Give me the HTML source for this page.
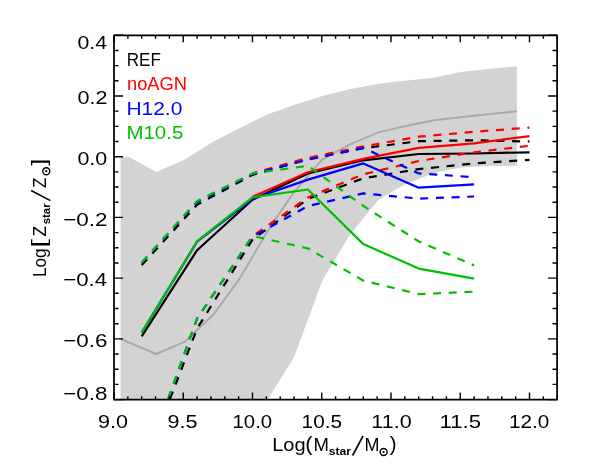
<!DOCTYPE html>
<html><head><meta charset="utf-8"><title>plot</title>
<style>html,body{margin:0;padding:0;background:#fff;}svg{display:block;will-change:transform;}text{font-family:"Liberation Sans",sans-serif;}</style>
</head><body>
<svg width="591" height="472" viewBox="0 0 591 472">
<rect x="0" y="0" width="591" height="472" fill="#ffffff"/>
<defs><clipPath id="cp"><rect x="114.0" y="35.3" width="443.1" height="364.3"/></clipPath></defs>
<g clip-path="url(#cp)">
<polygon points="120.6,156.7 129.0,157.0 156.4,172.0 184.4,159.7 213.7,141.5 240.0,127.9 267.7,114.2 294.1,105.1 322.4,96.0 349.4,89.3 378.5,83.8 404.8,80.8 433.9,77.8 460.2,72.0 487.9,69.0 516.9,66.2 516.9,165.8 487.9,166.1 460.2,167.6 433.9,173.1 404.8,184.6 378.5,199.8 349.4,235.6 322.4,280.6 294.1,357.1 267.7,399.6 240.0,460.3 213.7,521.0 184.4,551.4 156.4,581.7 129.0,612.1 120.6,612.1" fill="#d3d3d3"/>
<path d="M129.0 157.5V399.6M184.4 160.2V399.6M213.7 142.0V399.6M267.7 114.7V399.6M349.4 89.8V235.6M404.8 81.3V184.6M433.9 78.3V173.1" stroke="#dadada" stroke-width="0.5" fill="none"/>
<polyline points="120.6,338.9 129.0,342.5 156.4,354.0 184.4,341.9 213.7,314.3 240.0,278.1 267.7,230.8 294.1,191.9 322.4,159.3 349.4,144.6 378.5,132.4 404.8,126.3 433.9,120.3 460.2,117.2 487.9,114.2 516.9,111.2" fill="none" stroke="#a9a9a9" stroke-width="2" stroke-linejoin="round"/>
<polyline points="141.7,336.4 197.1,250.2 252.5,199.8 307.9,173.4 363.3,160.3 418.7,154.0 474.1,153.5 529.5,152.3" fill="none" stroke="#000000" stroke-width="2.2" stroke-linejoin="round"/>
<polyline points="141.7,265.1 197.1,204.7 252.5,174.9 307.9,159.1 363.3,148.2 418.7,141.2 474.1,140.3 529.5,141.5" fill="none" stroke="#000000" stroke-width="2.2" stroke-dasharray="8 7.7" stroke-linejoin="round"/>
<polyline points="141.7,472.4 197.1,328.5 252.5,239.6 307.9,198.9 363.3,178.3 418.7,169.1 474.1,163.4 529.5,159.9" fill="none" stroke="#000000" stroke-width="2.2" stroke-dasharray="8 7.7" stroke-linejoin="round"/>
<polyline points="252.5,196.8 307.9,172.2 363.3,158.9 418.7,147.9 474.1,143.3 529.5,136.1" fill="none" stroke="#ff0000" stroke-width="2.2" stroke-linejoin="round"/>
<polyline points="252.5,173.4 307.9,157.9 363.3,146.4 418.7,136.7 474.1,131.8 529.5,127.6" fill="none" stroke="#ff0000" stroke-width="2.2" stroke-dasharray="8 7.7" stroke-dashoffset="3.25" stroke-linejoin="round"/>
<polyline points="252.5,236.2 307.9,197.4 363.3,174.3 418.7,161.0 474.1,152.3 529.5,145.8" fill="none" stroke="#ff0000" stroke-width="2.2" stroke-dasharray="8 7.7" stroke-dashoffset="11.58" stroke-linejoin="round"/>
<polyline points="141.7,332.5 197.1,241.7 252.5,198.9 307.9,179.6 363.3,163.4 418.7,187.7 474.1,184.3" fill="none" stroke="#0000ff" stroke-width="2.2" stroke-linejoin="round"/>
<polyline points="141.7,262.7 197.1,201.9 252.5,174.0 307.9,159.7 363.3,147.9 418.7,173.4 474.1,177.2" fill="none" stroke="#0000ff" stroke-width="2.2" stroke-dasharray="8 7.7" stroke-linejoin="round"/>
<polyline points="141.7,472.4 197.1,318.5 252.5,236.9 307.9,206.0 363.3,193.4 418.7,198.6 474.1,196.5" fill="none" stroke="#0000ff" stroke-width="2.2" stroke-dasharray="8 7.7" stroke-linejoin="round"/>
<polyline points="141.7,332.5 197.1,241.1 252.5,197.4 307.9,189.5 363.3,244.1 418.7,268.6 474.1,278.7" fill="none" stroke="#00c000" stroke-width="2.2" stroke-linejoin="round"/>
<polyline points="141.7,262.4 197.1,201.0 252.5,173.4 307.9,165.8 363.3,205.9 418.7,241.4 474.1,265.4" fill="none" stroke="#00c000" stroke-width="2.2" stroke-dasharray="8 7.7" stroke-linejoin="round"/>
<polyline points="141.7,472.4 197.1,318.5 252.5,235.9 307.9,248.4 363.3,280.6 418.7,294.1 474.1,291.7" fill="none" stroke="#00c000" stroke-width="2.2" stroke-dasharray="8 7.7" stroke-linejoin="round"/>
</g>
<path d="M114.00 399.60V392.60M114.00 35.30V42.30M127.85 399.60V396.20M127.85 35.30V38.70M141.70 399.60V396.20M141.70 35.30V38.70M155.55 399.60V396.20M155.55 35.30V38.70M169.40 399.60V396.20M169.40 35.30V38.70M183.25 399.60V392.60M183.25 35.30V42.30M197.10 399.60V396.20M197.10 35.30V38.70M210.95 399.60V396.20M210.95 35.30V38.70M224.80 399.60V396.20M224.80 35.30V38.70M238.65 399.60V396.20M238.65 35.30V38.70M252.50 399.60V392.60M252.50 35.30V42.30M266.35 399.60V396.20M266.35 35.30V38.70M280.20 399.60V396.20M280.20 35.30V38.70M294.05 399.60V396.20M294.05 35.30V38.70M307.90 399.60V396.20M307.90 35.30V38.70M321.75 399.60V392.60M321.75 35.30V42.30M335.60 399.60V396.20M335.60 35.30V38.70M349.45 399.60V396.20M349.45 35.30V38.70M363.30 399.60V396.20M363.30 35.30V38.70M377.15 399.60V396.20M377.15 35.30V38.70M391.00 399.60V392.60M391.00 35.30V42.30M404.85 399.60V396.20M404.85 35.30V38.70M418.70 399.60V396.20M418.70 35.30V38.70M432.55 399.60V396.20M432.55 35.30V38.70M446.40 399.60V396.20M446.40 35.30V38.70M460.25 399.60V392.60M460.25 35.30V42.30M474.10 399.60V396.20M474.10 35.30V38.70M487.95 399.60V396.20M487.95 35.30V38.70M501.80 399.60V396.20M501.80 35.30V38.70M515.65 399.60V396.20M515.65 35.30V38.70M529.50 399.60V392.60M529.50 35.30V42.30M543.35 399.60V396.20M543.35 35.30V38.70M557.20 399.60V396.20M557.20 35.30V38.70M114.00 35.26H123.00M557.10 35.26H548.10M114.00 50.44H118.60M557.10 50.44H552.50M114.00 65.62H118.60M557.10 65.62H552.50M114.00 80.80H118.60M557.10 80.80H552.50M114.00 95.98H123.00M557.10 95.98H548.10M114.00 111.16H118.60M557.10 111.16H552.50M114.00 126.34H118.60M557.10 126.34H552.50M114.00 141.52H118.60M557.10 141.52H552.50M114.00 156.70H123.00M557.10 156.70H548.10M114.00 171.88H118.60M557.10 171.88H552.50M114.00 187.06H118.60M557.10 187.06H552.50M114.00 202.24H118.60M557.10 202.24H552.50M114.00 217.42H123.00M557.10 217.42H548.10M114.00 232.60H118.60M557.10 232.60H552.50M114.00 247.78H118.60M557.10 247.78H552.50M114.00 262.96H118.60M557.10 262.96H552.50M114.00 278.14H123.00M557.10 278.14H548.10M114.00 293.32H118.60M557.10 293.32H552.50M114.00 308.50H118.60M557.10 308.50H552.50M114.00 323.68H118.60M557.10 323.68H552.50M114.00 338.86H123.00M557.10 338.86H548.10M114.00 354.04H118.60M557.10 354.04H552.50M114.00 369.22H118.60M557.10 369.22H552.50M114.00 384.40H118.60M557.10 384.40H552.50M114.00 399.58H123.00M557.10 399.58H548.10" stroke="#000" stroke-width="1.4" fill="none"/>
<rect x="114.0" y="35.3" width="443.1" height="364.3" fill="none" stroke="#000" stroke-width="1.75" stroke-linejoin="round"/>
<text x="77.47" y="49.00" font-size="19.00" textLength="29.55" lengthAdjust="spacingAndGlyphs">0.4</text>
<text x="77.46" y="104.10" font-size="19.00" textLength="30.03" lengthAdjust="spacingAndGlyphs">0.2</text>
<text x="77.46" y="164.80" font-size="19.00" textLength="29.77" lengthAdjust="spacingAndGlyphs">0.0</text>
<text x="63.19" y="225.50" font-size="19.00" textLength="44.34" lengthAdjust="spacingAndGlyphs">−0.2</text>
<text x="63.20" y="286.20" font-size="19.00" textLength="43.85" lengthAdjust="spacingAndGlyphs">−0.4</text>
<text x="63.20" y="347.00" font-size="19.00" textLength="44.19" lengthAdjust="spacingAndGlyphs">−0.6</text>
<text x="63.20" y="400.40" font-size="19.00" textLength="44.18" lengthAdjust="spacingAndGlyphs">−0.8</text>
<text x="98.09" y="427.60" font-size="19.00" textLength="29.95" lengthAdjust="spacingAndGlyphs">9.0</text>
<text x="167.49" y="427.60" font-size="19.00" textLength="30.02" lengthAdjust="spacingAndGlyphs">9.5</text>
<text x="232.55" y="427.60" font-size="19.00" textLength="39.54" lengthAdjust="spacingAndGlyphs">10.0</text>
<text x="301.62" y="427.60" font-size="19.00" textLength="40.35" lengthAdjust="spacingAndGlyphs">10.5</text>
<text x="371.32" y="427.60" font-size="19.00" textLength="40.29" lengthAdjust="spacingAndGlyphs">11.0</text>
<text x="439.58" y="427.60" font-size="19.00" textLength="41.41" lengthAdjust="spacingAndGlyphs">11.5</text>
<text x="509.02" y="427.60" font-size="19.00" textLength="40.29" lengthAdjust="spacingAndGlyphs">12.0</text>
<text x="126.80" y="66.00" font-size="19.00" textLength="34.08" lengthAdjust="spacingAndGlyphs">REF</text>
<text x="126.98" y="90.20" font-size="19.00" fill="#ff0000" textLength="60.01" lengthAdjust="spacingAndGlyphs">noAGN</text>
<text x="126.48" y="114.60" font-size="19.00" fill="#0000ff" textLength="55.83" lengthAdjust="spacingAndGlyphs">H12.0</text>
<text x="126.53" y="139.00" font-size="19.00" fill="#00c000" textLength="56.73" lengthAdjust="spacingAndGlyphs">M10.5</text>
<text x="272.16" y="450.90" font-size="19.00" textLength="33.44" lengthAdjust="spacingAndGlyphs">Log</text>
<text x="305.24" y="451.30" font-size="20.50" textLength="7.28" lengthAdjust="spacingAndGlyphs">(</text>
<text x="313.38" y="450.90" font-size="19.00" textLength="15.44" lengthAdjust="spacingAndGlyphs">M</text>
<text x="328.87" y="454.90" font-size="10.00" font-weight="bold" textLength="22.21" lengthAdjust="spacingAndGlyphs">star</text>
<path d="M352.6 455.5L363.0 436.0" stroke="#000" stroke-width="1.6" fill="none"/>
<text x="364.53" y="450.90" font-size="19.00" textLength="14.94" lengthAdjust="spacingAndGlyphs">M</text>
<circle cx="383.6" cy="452.0" r="3.5" fill="none" stroke="#000" stroke-width="1.4"/><circle cx="383.6" cy="452.0" r="1.1" fill="#000"/>
<text x="389.68" y="451.30" font-size="20.50" textLength="6.78" lengthAdjust="spacingAndGlyphs">)</text>
<g transform="translate(45.7 276.5) rotate(-90)">
<text x="-0.61" y="0.00" font-size="19.00" textLength="28.72" lengthAdjust="spacingAndGlyphs">Log</text>
<text x="28.78" y="0.40" font-size="20.50" textLength="8.67" lengthAdjust="spacingAndGlyphs">[</text>
<text x="39.95" y="0.00" font-size="19.00" textLength="10.59" lengthAdjust="spacingAndGlyphs">Z</text>
<text x="52.20" y="4.20" font-size="10.00" font-weight="bold" textLength="20.98" lengthAdjust="spacingAndGlyphs">star</text>
<path d="M75.9 4.7L86.0 -14.6" stroke="#000" stroke-width="1.6" fill="none"/>
<text x="88.46" y="0.00" font-size="19.00" textLength="10.37" lengthAdjust="spacingAndGlyphs">Z</text>
<circle cx="105.3" cy="0.6" r="3.5" fill="none" stroke="#000" stroke-width="1.4"/><circle cx="105.3" cy="0.6" r="1.1" fill="#000"/>
<text x="110.70" y="0.40" font-size="20.50" textLength="7.13" lengthAdjust="spacingAndGlyphs">]</text>
</g>
</svg>
</body></html>
